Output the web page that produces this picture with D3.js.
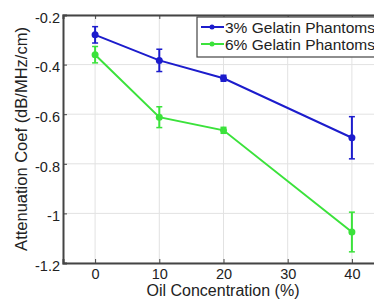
<!DOCTYPE html>
<html><head><meta charset="utf-8">
<script src="https://cdn.jsdelivr.net/npm/d3@7"></script>
<style>body{margin:0;background:#fff}svg{display:block}text{font-family:"Liberation Sans",Arial,sans-serif}</style>
</head><body><svg width="374" height="300"></svg>
<script>
const oil = [0, 10, 20, 40];
const gel3 = [-0.28, -0.383, -0.455, -0.695];
const gel3Err = [0.033, 0.045, 0.012, 0.085];
const gel6 = [-0.36, -0.612, -0.665, -1.075];
const gel6Err = [0.033, 0.042, 0.012, 0.08];
const xTicks = [0, 10, 20, 30, 40];
const yTicks = [-0.2, -0.4, -0.6, -0.8, -1, -1.2];
const yTickLabels = ["-0.2", "-0.4", "-0.6", "-0.8", "-1", "-1.2"];
const seriesNames = ["3% Gelatin Phantoms", "6% Gelatin Phantoms"];
const colors = ["#1c1ccc", "#3be23b"];

const svg = d3.select("svg");
const L = 63, R = 384, T = 15, B = 263;
const x = d3.scaleLinear().domain([-5, 45]).range([L, R]);
const y = d3.scaleLinear().domain([-1.2, -0.2]).range([B, T]);

// grid
svg.append("g").selectAll("line").data(xTicks).join("line")
  .attr("x1", d => x(d)).attr("x2", d => x(d)).attr("y1", T).attr("y2", B)
  .attr("stroke", "#e2e2e2").attr("stroke-width", 1);
svg.append("g").selectAll("line").data(yTicks).join("line")
  .attr("x1", L).attr("x2", R).attr("y1", d => y(d)).attr("y2", d => y(d))
  .attr("stroke", "#e2e2e2").attr("stroke-width", 1);

// axes
const xAxis = svg.append("g").attr("transform", `translate(0,${B})`)
  .call(d3.axisBottom(x).tickValues(xTicks).tickSize(-4).tickPadding(6));
const yAxis = svg.append("g").attr("transform", `translate(${L},0)`)
  .call(d3.axisLeft(y).tickValues(yTicks).tickFormat((d, i) => yTickLabels[i]).tickSize(-4).tickPadding(3));
const xTop = svg.append("g").attr("transform", `translate(0,${T})`)
  .call(d3.axisTop(x).tickValues(xTicks).tickSize(-4).tickFormat(""));
[xAxis, yAxis, xTop].forEach(g => {
  g.select(".domain").attr("stroke", "#444").attr("stroke-width", 2);
  g.selectAll(".tick line").attr("stroke", "#444");
  g.selectAll("text").attr("font-size", 14.5).attr("fill", "#222")
    .attr("font-family", "Liberation Sans, Arial, sans-serif");
});
yAxis.selectAll("text").attr("dy", "0.5em");

// series
const series = [
  {vals: gel3, err: gel3Err, c: colors[0]},
  {vals: gel6, err: gel6Err, c: colors[1]}
];
series.forEach(s => {
  const pts = oil.map((o, i) => ({o, v: s.vals[i], e: s.err[i]}));
  const g = svg.append("g");
  g.append("path").datum(pts)
    .attr("d", d3.line().x(d => x(d.o)).y(d => y(d.v)))
    .attr("fill", "none").attr("stroke", s.c).attr("stroke-width", 2);
  g.selectAll(".eb").data(pts).join("line")
    .attr("x1", d => x(d.o)).attr("x2", d => x(d.o))
    .attr("y1", d => y(d.v + d.e)).attr("y2", d => y(d.v - d.e))
    .attr("stroke", s.c).attr("stroke-width", 2);
  g.selectAll(".cap1").data(pts).join("line")
    .attr("x1", d => x(d.o) - 3).attr("x2", d => x(d.o) + 3)
    .attr("y1", d => y(d.v + d.e)).attr("y2", d => y(d.v + d.e))
    .attr("stroke", s.c).attr("stroke-width", 1.5);
  g.selectAll(".cap2").data(pts).join("line")
    .attr("x1", d => x(d.o) - 3).attr("x2", d => x(d.o) + 3)
    .attr("y1", d => y(d.v - d.e)).attr("y2", d => y(d.v - d.e))
    .attr("stroke", s.c).attr("stroke-width", 1.5);
  g.selectAll("circle").data(pts).join("circle")
    .attr("cx", d => x(d.o)).attr("cy", d => y(d.v)).attr("r", 3.5).attr("fill", s.c);
});

// legend
const lg = svg.append("g");
lg.append("rect").attr("x", 197).attr("y", 17).attr("width", 200).attr("height", 40)
  .attr("fill", "#fff").attr("stroke", "#444").attr("stroke-width", 1.2);
seriesNames.forEach((n, i) => {
  const yy = 27 + i * 17;
  lg.append("line").attr("x1", 201).attr("x2", 224).attr("y1", yy).attr("y2", yy)
    .attr("stroke", colors[i]).attr("stroke-width", 2);
  lg.append("circle").attr("cx", 212).attr("cy", yy).attr("r", 2.5).attr("fill", colors[i]);
  lg.append("text").attr("x", 225).attr("y", yy + 5.5).attr("font-size", 15.5)
    .attr("fill", "#222").text(n);
});

// labels
svg.append("text").attr("x", (L + R) / 2 - 0.5).attr("y", 296).attr("text-anchor", "middle")
  .attr("font-size", 16).attr("fill", "#222").text("Oil Concentration (%)");
svg.append("text").attr("transform", `translate(27,${(T + B) / 2}) rotate(-90)`)
  .attr("text-anchor", "middle").attr("font-size", 16.5).attr("fill", "#222")
  .text("Attenuation Coef (dB/MHz/cm)");
</script></body></html>
